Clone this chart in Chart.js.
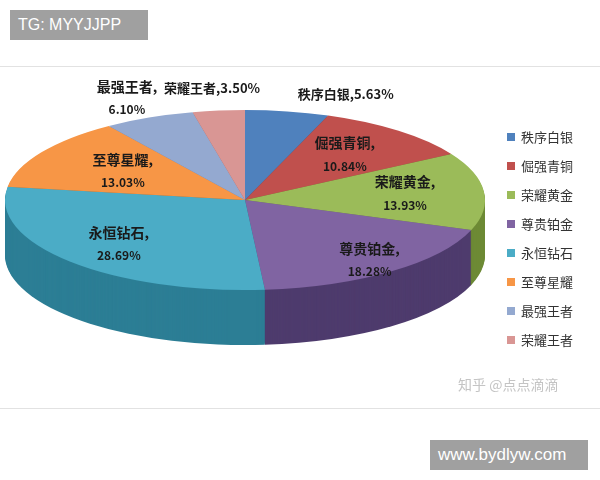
<!DOCTYPE html>
<html><head><meta charset="utf-8">
<script src="https://cdn.jsdelivr.net/npm/chart.js@4/dist/chart.umd.min.js"></script>
<style>
body{margin:0;width:600px;height:480px;overflow:hidden;background:#fff;font-family:"Noto Sans CJK SC",sans-serif;position:relative}
#wrap{position:absolute;left:0;top:0;width:600px;height:480px}
.tag{position:absolute;background:#a0a0a0;color:#fff;font-family:"Liberation Sans",Arial,sans-serif;font-size:16px;line-height:30px;padding:0 8px}
.line{position:absolute;left:0;width:600px;height:1px;background:#e2e2e2}
</style></head><body>
<div class="line" style="top:66px"></div>
<div class="line" style="top:408px"></div>
<div id="wrap"><canvas id="c"></canvas></div>
<div class="tag" style="left:10px;top:10px;width:122px">TG: MYYJJPP</div>
<div class="tag" style="left:430px;top:440px;width:142px;font-size:17px">www.bydlyw.com</div>
<script>
// Data
const labels = ["秩序白银", "倔强青铜", "荣耀黄金", "尊贵铂金", "永恒钻石", "至尊星耀", "最强王者", "荣耀王者"];
const values = [5.63, 10.84, 13.93, 18.28, 28.69, 13.03, 6.10, 3.50];
const colors = ["#4f81bd", "#c0504d", "#9bbb59", "#8064a2", "#4bacc6", "#f79646", "#94a9d0", "#d99694"];
const sides = ["#2f5587", "#8a2f2c", "#6d8a35", "#4e3b6d", "#2c7e95", "#b8651f", "#667fae", "#a86563"];

const squash = 0.375, depth = 55, centerY = 200;
const labelDist = [1.2, 0.65, 0.67, 0.85, 0.72, 0.6, 1.23, 1.25];
const oneLine = [true, false, false, false, false, false, false, true];

const pie3d = {
  id: "pie3d",
  beforeDatasetsDraw(chart) {
    const ctx = chart.ctx, meta = chart.getDatasetMeta(0);
    const a0 = meta.data[0];
    ctx.save();
    ctx.translate(a0.x, centerY);
    ctx.scale(1, squash);
    ctx.translate(-a0.x, -a0.y);
    // side walls
    for (let d = depth; d > 0; d--) {
      meta.data.forEach((arc, i) => {
        ctx.beginPath();
        ctx.moveTo(arc.x, arc.y + d / squash);
        ctx.arc(arc.x, arc.y + d / squash, arc.outerRadius, arc.startAngle, arc.endAngle);
        ctx.closePath();
        ctx.fillStyle = sides[i];
        ctx.fill();
      });
    }
  },
  afterDatasetsDraw(chart) {
    chart.ctx.restore();
  },
  afterDraw(chart) {
    const ctx = chart.ctx, meta = chart.getDatasetMeta(0);
    ctx.save();
    ctx.textAlign = "center";
    ctx.textBaseline = "middle";
    ctx.fillStyle = "#1a1a1a";
    meta.data.forEach((arc, i) => {
      const mid = (arc.startAngle + arc.endAngle) / 2, r = arc.outerRadius * labelDist[i];
      const x = arc.x + r * Math.cos(mid), y = centerY + r * squash * Math.sin(mid);
      const pct = values[i].toFixed(2) + "%";
      if (oneLine[i]) {
        ctx.font = "bold 13px 'Noto Sans CJK SC'";
        ctx.fillText(labels[i] + "," + pct, x + (i === 0 ? 50 : 0), y);
      } else {
        ctx.font = "bold 14px 'Noto Sans CJK SC'";
        ctx.fillText(labels[i] + ",", x, y - 12);
        ctx.font = "bold 12px 'Noto Sans CJK SC'";
        ctx.fillText(pct, x, y + 11);
      }
    });
    // legend
    ctx.textAlign = "left";
    ctx.font = "13px 'Noto Sans CJK SC'";
    labels.forEach((l, i) => {
      const y = 137 + i * 29;
      ctx.fillStyle = colors[i];
      ctx.fillRect(507, y - 4, 8, 8);
      ctx.fillStyle = "#333";
      ctx.fillText(l, 521, y);
    });
    ctx.fillStyle = "#c4c4c4";
    ctx.font = "14px 'Noto Sans CJK SC'";
    ctx.fillText("知乎 @点点滴滴", 458, 385);
    ctx.restore();
  }
};

new Chart(document.getElementById("c"), {
  type: "pie",
  data: {
    labels: labels,
    datasets: [{ data: values, backgroundColor: colors, borderColor: "#fff", borderWidth: 0 }]
  },
  options: {
    responsive: true,
    maintainAspectRatio: false,
    animation: false,
    layout: { padding: { left: 0, right: 110, top: 0, bottom: 0 } },
    plugins: { legend: { display: false }, tooltip: { enabled: false } }
  },
  plugins: [pie3d]
});
</script>
</body></html>
